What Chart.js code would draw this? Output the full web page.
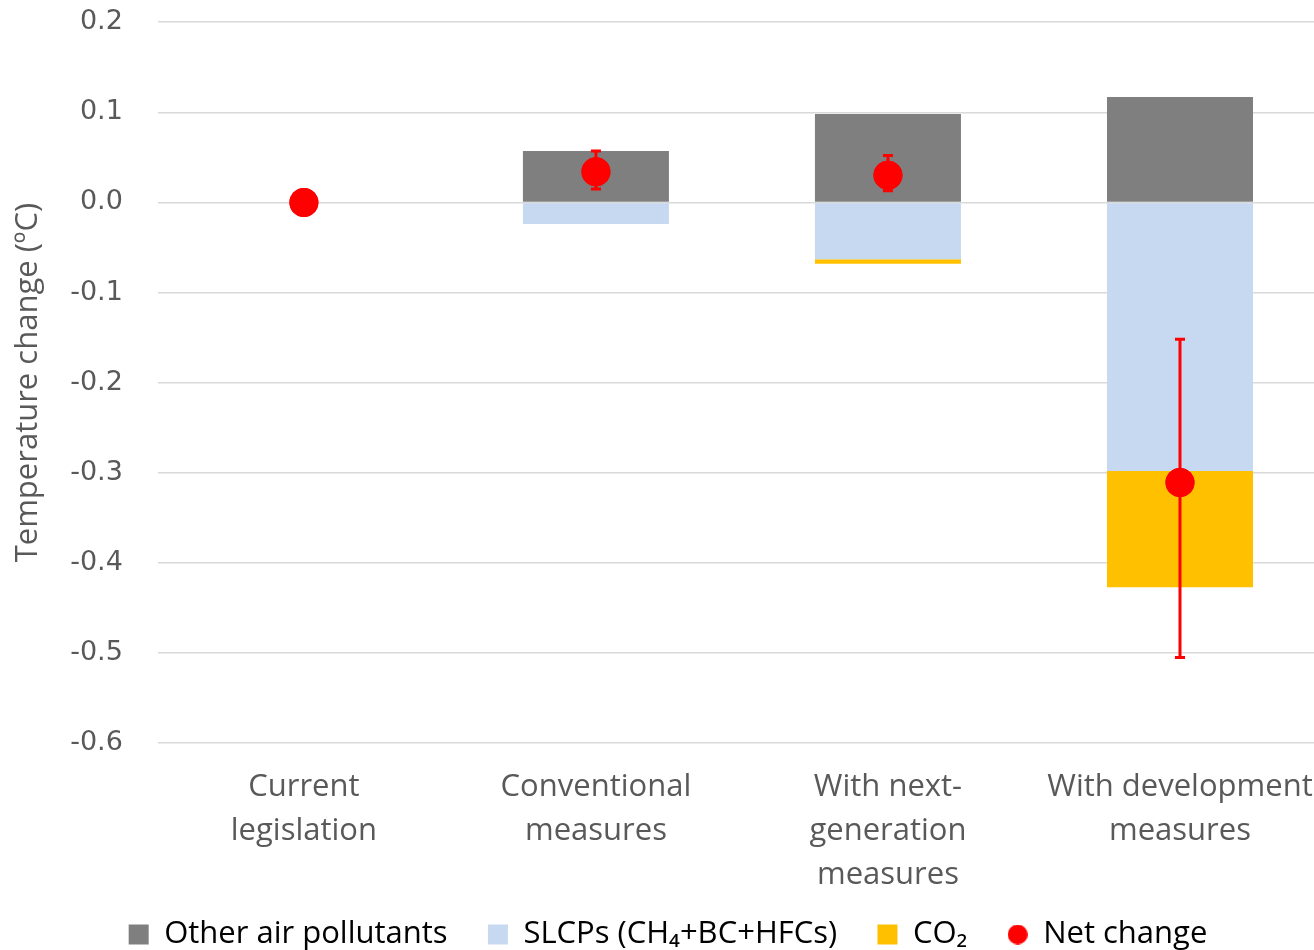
<!DOCTYPE html>
<html>
<head>
<meta charset="utf-8">
<script src="https://cdn.jsdelivr.net/npm/chart.js@4/dist/chart.umd.min.js"></script>
<style>
  html, body { margin: 0; padding: 0; background: #fff; overflow: hidden; }
  #wrap { width: 1314px; height: 950px; overflow: hidden; }
</style>
</head>
<body>
<div id="wrap"><canvas id="myChart" width="1340" height="960"></canvas></div>
<script>
// categories (x axis)
const categories = [
  ["Current", "legislation"],
  ["Conventional", "measures"],
  ["With next-", "generation", "measures"],
  ["With development", "measures"]
];

// series values (ºC)
const otherPollutants = [0, 0.057, 0.098, 0.117];
const slcps = [0, -0.024, -0.063, -0.298];
const co2 = [0, 0, -0.005, -0.129];
const netChange = [0, 0.034, 0.030, -0.311];
const netLow = [null, 0.015, 0.013, -0.505];
const netHigh = [null, 0.057, 0.052, -0.152];

// y tick settings
const yMin = -0.6;
const yMax = 0.2;
const yStep = 0.1;

const txt = "#595959";
const font = "'Open Sans', 'Liberation Sans', sans-serif";

// petit rond rouge pour la légende "Net change"
const dot = document.createElement("canvas");
dot.width = 20; dot.height = 20;
const dctx = dot.getContext("2d");
dctx.fillStyle = "#ff0000";
dctx.beginPath(); dctx.arc(10, 10, 10, 0, Math.PI * 2); dctx.fill();

// barres d'erreur autour des points "Net change"
const errorBars = {
  id: "errorBars",
  afterDatasetsDraw(chart) {
    const meta = chart.getDatasetMeta(3);
    const y = chart.scales.y;
    const c = chart.ctx;
    c.save();
    c.strokeStyle = "#ff0000";
    c.lineWidth = 3;
    meta.data.forEach(function (pt, i) {
      if (netLow[i] === null) return;
      const x = pt.x;
      const y1 = y.getPixelForValue(netLow[i]);
      const y2 = y.getPixelForValue(netHigh[i]);
      c.beginPath();
      c.moveTo(x, y1); c.lineTo(x, y2);
      c.moveTo(x - 5, y1); c.lineTo(x + 5, y1);
      c.moveTo(x - 5, y2); c.lineTo(x + 5, y2);
      c.stroke();
    });
    c.restore();
    // redessine les points par-dessus les barres d'erreur
    meta.data.forEach(function (pt) { pt.draw(c, chart.chartArea); });
  }
};

// trailing spaces only to space the legend items like the original
const legendText = ["Other air pollutants     ", "SLCPs (CH\u2084+BC+HFCs)     ", "CO\u2082     ", "Net change"];

new Chart(document.getElementById("myChart"), {
  data: {
    labels: categories,
    datasets: [
      { type: "bar", label: "Other air pollutants", data: otherPollutants, backgroundColor: "#7f7f7f", stack: "s", order: 2 },
      { type: "bar", label: "SLCPs (CH\u2084+BC+HFCs)", data: slcps, backgroundColor: "#c6d9f0", stack: "s", order: 2 },
      { type: "bar", label: "CO\u2082", data: co2, backgroundColor: "#ffc000", stack: "s", order: 2 },
      { type: "line", label: "Net change", data: netChange, showLine: false, stack: "net", order: 1,
        pointRadius: 14.5, pointHoverRadius: 14.5, pointStyle: "circle",
        backgroundColor: "#ff0000", borderColor: "#ff0000", borderWidth: 0 }
    ]
  },
  options: {
    responsive: false,
    animation: false,
    layout: { autoPadding: false, padding: { left: 10, right: 14, top: 6, bottom: 0 } },
    plugins: {
      tooltip: { enabled: false },
      legend: {
        position: "bottom",
        labels: {
          color: txt,
          font: { family: font, size: 31 },
          boxWidth: 20,
          boxHeight: 20,
          padding: 0,
          usePointStyle: true,
          generateLabels(chart) {
            return chart.data.datasets.map(function (ds, i) {
              return {
                text: legendText[i],
                fillStyle: ds.backgroundColor,
                strokeStyle: ds.backgroundColor,
                lineWidth: 0,
                pointStyle: i === 3 ? dot : "rect",
                datasetIndex: i
              };
            });
          }
        }
      }
    },
    datasets: { bar: { categoryPercentage: 1.0, barPercentage: 0.5 } },
    scales: {
      x: {
        stacked: true,
        grid: { display: false, drawTicks: false },
        border: { display: false },
        ticks: { color: txt, font: { family: font, size: 31, lineHeight: 44 / 31 }, maxRotation: 0, padding: 22 }
      },
      y: {
        stacked: true,
        min: yMin,
        max: yMax,
        grid: { color: "#d9d9d9", lineWidth: 1.5, tickLength: 29, tickColor: "rgba(0,0,0,0)" },
        border: { display: false },
        ticks: {
          stepSize: yStep,
          color: txt,
          font: { family: "'DejaVu Sans', sans-serif", size: 27 },
          padding: 6,
          callback: function (v) { return (Math.round(v * 10) / 10).toFixed(1); }
        },
        title: { display: true, text: "Temperature change (ºC)", color: txt, font: { family: font, size: 31 }, padding: { top: 0, bottom: 17 } }
      }
    }
  },
  plugins: [errorBars]
});
</script>
</body>
</html>
